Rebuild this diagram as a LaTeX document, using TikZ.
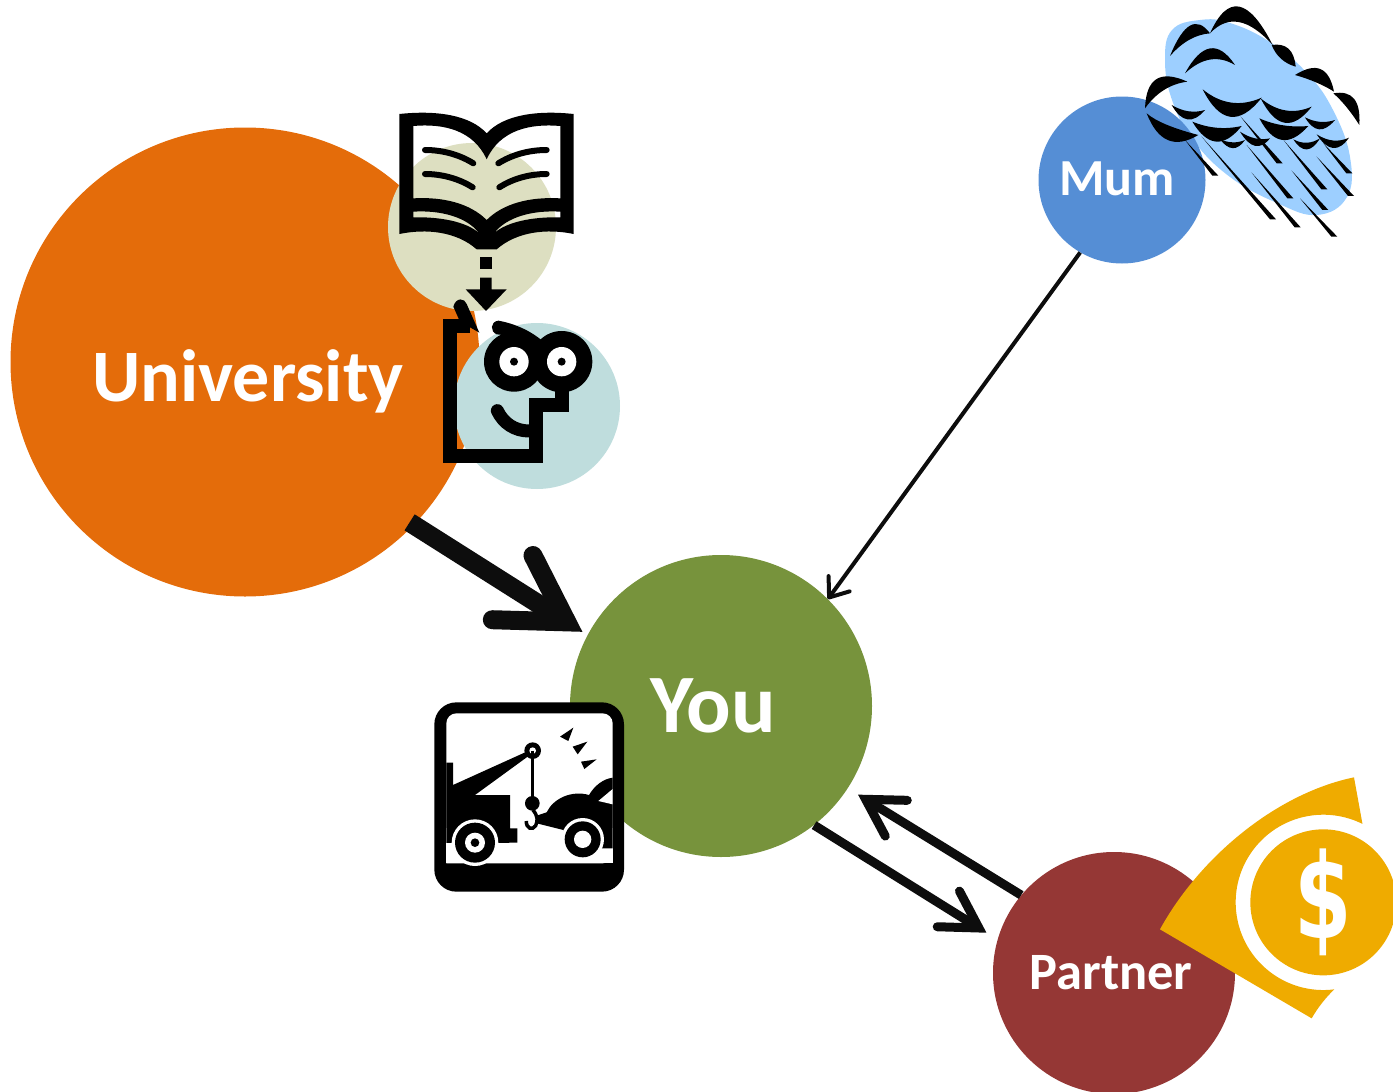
\documentclass[tikz,border=0pt]{standalone}
\usepackage{fontspec}
\usepackage{xcolor}
\usepackage{graphicx}
\usepackage{tikz}
\usetikzlibrary{arrows.meta,calc}
\setmainfont{Carlito}
\newfontfamily\dollarfont{DejaVu Sans}
\definecolor{uniorange}{HTML}{E46C0A}
\definecolor{bookbeige}{HTML}{DDDFC1}
\definecolor{headteal}{HTML}{BFDDDD}
\definecolor{yougreen}{HTML}{77933C}
\definecolor{mumblue}{HTML}{558ED5}
\definecolor{partnerred}{HTML}{953735}
\definecolor{rainblue}{HTML}{9DCFFF}
\definecolor{moneygold}{HTML}{EFAB00}
\definecolor{arrowblack}{HTML}{0D0D0D}
\newcommand{\crescent}[4]{\fill (#1) .. controls ($(#1)!2/3!(#2)$) and ($(#3)!2/3!(#2)$) .. (#3) .. controls ($(#3)!2/3!(#4)$) and ($(#1)!2/3!(#4)$) .. (#1);}
\begin{document}
\begin{tikzpicture}[x=1pt,y=-1pt]
	\tikzset{person/.style={circle,inner sep=0pt,minimum size=#1}}
	\tikzset{who/.style={text=white,font=\bfseries\fontsize{#1}{#1}\selectfont,inner sep=0pt}}
	\tikzset{heavy/.style={line width=19pt,draw=arrowblack,-{Straight Barb[line cap=round,line join=miter,length=64pt,width=76pt]}}}
	\tikzset{medium/.style={line width=9pt,draw=arrowblack,-{Straight Barb[line cap=round,line join=miter,length=36pt,width=42pt]}}}
	\tikzset{light/.style={line width=4pt,draw=arrowblack,-{Straight Barb[round,length=17pt,width=26pt]}}}
	\useasboundingbox (0,0) rectangle (1393,1092);

	\node[person=469pt,fill=uniorange] (university) at (245,362) {};
	\node[person=168pt,fill=bookbeige] (reading) at (472,227) {};
	\node[person=166pt,fill=headteal] (thinking) at (537,406) {};
	\node[person=302pt,fill=yougreen] (you) at (721,706) {};
	\fill[rainblue] plot[smooth cycle,tension=.7] coordinates {(1165,60) (1172,30) (1200,20) (1230,23) (1270,42) (1307,73) (1333,110) (1350,157) (1347,197) (1317,215) (1277,203) (1230,177) (1193,140) (1172,100)};
	\node[person=167pt,fill=mumblue] (mum) at (1122,180) {};
	\node[person=242pt,fill=partnerred] (partner) at (1114,973) {};

	\node[who=74] (universitytext) at (248,381) {University};
	\node[who=83] (youtext) at (713,706) {You};
	\node[who=52] (mumtext) at (1117,179) {Mum};
	\node[who=52.5] (partnertext) at (1111,973) {Partner};

	\draw[heavy,shorten <=-5pt,shorten >=6pt] (university.-44) -- (you.152);
	\draw[light] (mum.240) -- (you.45);
	\draw[medium,shorten >=13pt] (you.-52) -- (partner.164);
	\draw[medium,shorten >=12pt] (partner.140) -- (you.-33);

	% book
	\begin{scope}[shift={(380,100)},scale=1/3]
		\fill[even odd rule] (58,42) .. controls (170,30) and (270,45) .. (320,100) .. controls (370,45) and (470,30) .. (581,42) -- (581,402) .. controls (500,385) and (410,395) .. (350,448) -- (290,448) .. controls (230,395) and (140,385) .. (58,402) -- cycle
			(100,78) .. controls (190,70) and (280,90) .. (320,178) .. controls (360,90) and (450,70) .. (541,78) -- (541,295) .. controls (450,290) and (370,310) .. (320,360) .. controls (270,310) and (190,290) .. (100,295) -- cycle
			(100,335) .. controls (180,330) and (260,350) .. (298,400) .. controls (260,365) and (180,350) .. (100,352) -- cycle
			(541,335) .. controls (460,330) and (380,350) .. (342,400) .. controls (380,365) and (460,350) .. (541,352) -- cycle;
		\draw[line width=6pt,line cap=round] (135,150) .. controls (190,150) and (240,165) .. (280,190);
		\draw[line width=6pt,line cap=round] (135,222) .. controls (190,222) and (240,238) .. (278,262);
		\draw[line width=6pt,line cap=round] (355,190) .. controls (395,165) and (445,150) .. (500,150);
		\draw[line width=6pt,line cap=round] (358,262) .. controls (395,238) and (445,222) .. (500,222);
		\fill (300,470) rectangle (335,507);
		\fill (300,533) -- (335,533) -- (335,568) -- (380,568) -- (318,633) -- (257,568) -- (300,568) -- cycle;
	\end{scope}

	% head
	\begin{scope}[shift={(380,100)},scale=1/3]
		\draw[line width=14pt,miter limit=10] (270,678) -- (211,678) -- (211,1067) -- (468,1067) -- (468,915) -- (545,915) -- (545,860);
		\fill (220,620) .. controls (228,590) and (255,595) .. (260,612) -- (298,698) -- (240,665) -- cycle;
		\fill (402,785) circle[radius=90] (545,785) circle[radius=92];
		\fill[white] (402,785) circle[radius=44] (545,785) circle[radius=44];
		\fill (402,785) circle[radius=12] (545,785) circle[radius=12];
		\fill (355,662) .. controls (400,670) and (450,690) .. (490,725) -- (440,750) .. controls (410,715) and (380,705) .. (350,703) .. controls (330,695) and (330,665) .. (355,662) -- cycle;
		\draw[line width=13pt,line cap=round] (352,932) .. controls (370,970) and (405,993) .. (447,993);
	\end{scope}

	% tow truck
	\begin{scope}[shift={(425,695)},scale=1/3]
		\fill[rounded corners=22pt] (28,22) rectangle (597,590);
		\fill[white,rounded corners=10pt] (64,505) -- (64,55) -- (563,55) -- (563,505) [sharp corners] -- cycle;
		\fill[white] (64,400) rectangle (563,505);
		\fill (64,203) -- (84,203) -- (84,270) -- (305,170) -- (312,182) -- (150,300) -- (255,300) -- (255,400) -- (277,400) -- (277,443) -- (64,445) -- cycle;
		\fill[white] (150,443) circle[radius=70];
		\fill[white] (64,445) rectangle (280,505);
		\fill (150,443) circle[radius=60];
		\fill[white] (150,443) circle[radius=30];
		\fill (150,443) circle[radius=13];
		\fill (323,167) circle[radius=25];
		\fill[white] (323,167) circle[radius=10];
		\draw[line width=2.5pt] (323,167) -- (323,320);
		\fill (322,325) circle[radius=22];
		\draw[line width=3.5pt] (324,345) .. controls (340,365) and (338,378) .. (332,392) .. controls (322,408) and (303,400) .. (304,378);
		\fill (335,362) -- (365,352) .. controls (385,310) and (440,285) .. (492,300) .. controls (510,270) and (535,252) .. (563,248) -- (563,460) -- (530,460) -- (415,430) -- (415,405) -- (335,385) -- cycle;
		\fill[white] (520,318) -- (563,282) -- (563,328) -- cycle;
		\fill[white] (473,433) circle[radius=64];
		\fill[white] (405,462) rectangle (535,505);
		\fill (473,433) circle[radius=54];
		\fill[white] (473,433) circle[radius=26];
		\fill (405,125) -- (445,98) -- (430,138) -- cycle;
		\fill (443,155) -- (487,140) -- (458,178) -- cycle;
		\fill (468,200) -- (515,193) -- (478,222) -- cycle;
	\end{scope}

	% storm cloud
	\begin{scope}[shift={(1130,0)},scale=1/3]
		\crescent{120,168}{180,20}{240,100}{175,105}
		\crescent{240,100}{320,-78}{428,135}{320,15}
		\crescent{425,135}{490,125}{497,200}{445,185}
		\crescent{495,225}{590,165}{612,275}{565,245}
		\crescent{610,280}{695,265}{688,375}{650,315}
		\crescent{165,220}{240,83}{315,195}{240,150}
		\crescent{45,325}{50,190}{172,245}{95,255}
		\crescent{50,340}{100,468}{205,405}{90,375}
		\crescent{125,315}{170,394}{225,330}{175,345}
		\crescent{218,268}{295,420}{395,293}{300,335}
		\crescent{392,295}{460,429}{545,320}{465,355}
		\crescent{187,365}{255,478}{335,378}{260,395}
		\crescent{388,355}{450,473}{535,378}{455,385}
		\crescent{525,352}{565,420}{615,360}{570,375}
		\crescent{270,418}{310,470}{345,420}{310,435}
		\crescent{330,395}{375,470}{420,415}{375,425}
		\crescent{490,418}{530,480}{570,415}{530,440}
		\crescent{560,403}{610,480}{657,413}{610,435}
		\foreach \xa/\ya/\xb/\yb in {165/420/265/527,215/410/438/658,332/350/458/490,350/435/490/595,365/518/512/682,462/422/592/568,485/512/595/630,510/595/622/710,580/430/667/520,560/470/672/588}
			\fill (\xa,\ya) -- (\xb,\yb) -- ([xshift=-18pt]\xb,\yb) -- cycle;
	\end{scope}

	% money
	\begin{scope}[shift={(1150,770)},scale=1/3]
		\fill[moneygold] (612,22) .. controls (380,70) and (150,260) .. (30,478) -- (485,745) .. controls (505,710) and (530,680) .. (553,658) arc[start angle=82.8,end angle=296.5,radius=263] -- cycle;
		\node[person=146pt,fill=moneygold] (coin) at (520,397) {};
		\node[text=white,font=\dollarfont\bfseries\fontsize{118}{118}\selectfont,inner sep=0pt] (dollar) at (coin.center) {\scalebox{.7}[1]{\$}};
	\end{scope}
\end{tikzpicture}
\end{document}
